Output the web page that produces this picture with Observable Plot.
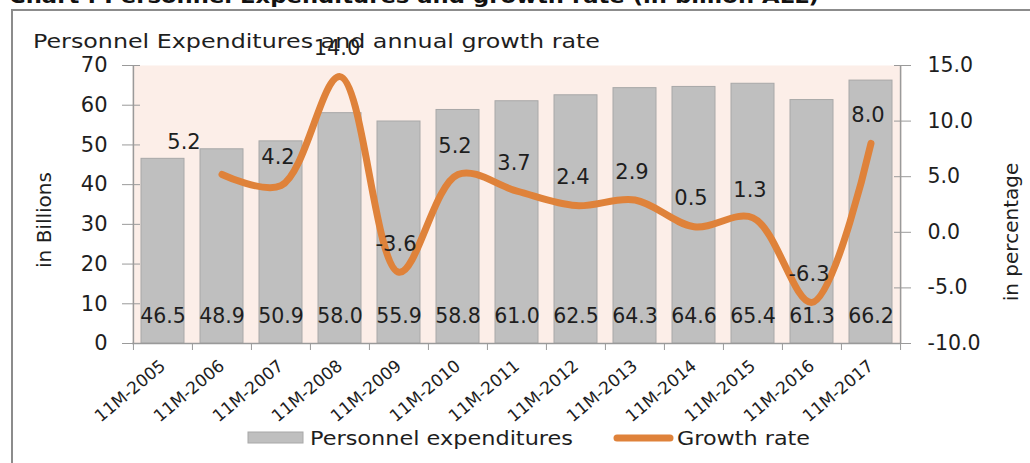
<!DOCTYPE html>
<html>
<head>
<meta charset="utf-8">
<script src="https://cdn.jsdelivr.net/npm/d3@7"></script>
<script src="https://cdn.jsdelivr.net/npm/@observablehq/plot@0.6"></script>
<style>
  html, body { margin: 0; padding: 0; background: #ffffff; }
  #wrap { position: relative; width: 1030px; height: 463px; overflow: hidden; font-family: "DejaVu Sans", sans-serif; }
  #wrap > svg { position: absolute; left: 0; top: 0; }
</style>
</head>
<body>
<div id="wrap"></div>
<script>
// ---- data ----
const categories = ["11M-2005","11M-2006","11M-2007","11M-2008","11M-2009","11M-2010","11M-2011","11M-2012","11M-2013","11M-2014","11M-2015","11M-2016","11M-2017"];
const expenditures = [46.5, 48.9, 50.9, 58.0, 55.9, 58.8, 61.0, 62.5, 64.3, 64.6, 65.4, 61.3, 66.2];
const growthCategories = categories.slice(1);
const growthRate = [5.2, 4.2, 14.0, -3.6, 5.2, 3.7, 2.4, 2.9, 0.5, 1.3, -6.3, 8.0];
const leftTicks = [0, 10, 20, 30, 40, 50, 60, 70];
const rightTicks = [-10, -5, 0, 5, 10, 15];

// ---- tables ----
const bars = categories.map((c, i) => ({cat: c, value: expenditures[i]}));
const growth = growthCategories.map((c, i) => ({cat: c, value: growthRate[i]}));

// map growth (-10..15) onto the left scale (0..70)
const gDomain = [-10, 15], yDomain = [0, 70];
const toY = g => (g - gDomain[0]) * (yDomain[1] - yDomain[0]) / (gDomain[1] - gDomain[0]) + yDomain[0];
const fromY = v => Math.round(((v - yDomain[0]) * (gDomain[1] - gDomain[0]) / (yDomain[1] - yDomain[0]) + gDomain[0]) * 10) / 10;

const W = 1030, H = 463;
const mL = 132, mR = 129, mT = 65, mB = 120;
const step = (W - mL - mR) / categories.length;

const ORANGE = "#DF823A";
const AXIS = "#9a9a9a";
const TEXT = "#1e1e1e";

const chart = Plot.plot({
  width: W, height: H,
  marginLeft: mL, marginRight: mR, marginTop: mT, marginBottom: mB,
  style: {fontFamily: "DejaVu Sans, sans-serif", fontSize: "19px", background: "transparent", color: TEXT},
  x: {type: "band", domain: categories, paddingInner: 0.27, paddingOuter: 0.135},
  y: {domain: yDomain},
  marks: [
    Plot.frame({fill: "#FCEEE8", stroke: null}),
    Plot.barY(bars, {x: "cat", y: "value", fill: "#BFBFBF", stroke: "#A8A8A8", strokeWidth: 1}),
    // axis lines
    Plot.ruleY([0], {stroke: AXIS, strokeWidth: 1.5}),
    Plot.ruleX([categories[0]], {x: d => d, dx: -step / 2, y1: yDomain[0], y2: yDomain[1], stroke: AXIS, strokeWidth: 1.5}),
    Plot.ruleX([categories[categories.length - 1]], {x: d => d, dx: step / 2, y1: yDomain[0], y2: yDomain[1], stroke: AXIS, strokeWidth: 1.5}),
    // category boundary ticks
    Plot.axisX({tickSize: 7, tickFormat: () => "", dx: -step / 2, stroke: AXIS, label: null}),
    Plot.axisX([categories[categories.length - 1]], {tickSize: 7, tickFormat: () => "", dx: step / 2, stroke: AXIS, label: null}),
    // category labels
    Plot.axisX({tickSize: 0, tickPadding: 20, tickRotate: -40, fontSize: 17, fill: TEXT, label: null}),
    // left axis
    Plot.axisY(leftTicks, {anchor: "left", tickSize: 18, dx: 8, tickPadding: 15, stroke: AXIS, fill: TEXT, label: null, fontSize: 21, tickFormat: d => String(d)}),
    // right axis
    Plot.axisY(rightTicks.map(toY), {anchor: "right", tickSize: 17, dx: -8, tickPadding: 17, stroke: AXIS, fill: TEXT, label: null, fontSize: 20.5, tickFormat: v => fromY(v).toFixed(1)}),
    // value labels on bars
    Plot.text(bars, {x: "cat", frameAnchor: "bottom", dy: -21, text: d => d.value.toFixed(1), fill: TEXT, fontSize: 20.5}),
    // growth line
    Plot.line(growth, {x: "cat", y: d => toY(d.value), stroke: ORANGE, strokeWidth: 7, curve: "catmull-rom", strokeLinecap: "round", strokeLinejoin: "round"}),
    Plot.text(growth.slice(0, 1), {x: "cat", y: d => toY(d.value), dx: -38, dy: -32, text: d => d.value.toFixed(1), fill: TEXT, fontSize: 21}),
    Plot.text(growth.slice(1), {x: "cat", y: d => toY(d.value), dx: -3, dy: -28, text: d => d.value.toFixed(1), fill: TEXT, fontSize: 21})
  ]
});
document.getElementById("wrap").appendChild(chart);

// ---- decorations: border, titles, axis titles, legend ----
const deco = d3.select("#wrap").append("svg")
  .attr("width", W).attr("height", H)
  .style("font-family", "DejaVu Sans, sans-serif")
  .style("pointer-events", "none");

deco.append("path").attr("d", `M12,${H} V10 H${W}`).attr("fill", "none").attr("stroke", "#8c8c8c").attr("stroke-width", 2);

deco.append("text").attr("x", 9).attr("y", 3).attr("font-size", 20).attr("font-weight", "bold").attr("fill", "#111")
  .attr("textLength", 810).attr("lengthAdjust", "spacingAndGlyphs")
  .text("Chart : Personnel Expenditures and growth rate (in billion ALL)");

deco.append("text").attr("x", 33).attr("y", 48).attr("font-size", 20).attr("fill", TEXT)
  .attr("textLength", 567).attr("lengthAdjust", "spacingAndGlyphs")
  .text("Personnel Expenditures and annual growth rate");

deco.append("text").attr("transform", "translate(44,220) rotate(-90)").attr("text-anchor", "middle")
  .attr("dominant-baseline", "central").attr("font-size", 20).attr("fill", TEXT).text("in Billions");
deco.append("text").attr("transform", "translate(1011,232) rotate(-90)").attr("text-anchor", "middle")
  .attr("dominant-baseline", "central").attr("font-size", 20).attr("fill", TEXT).text("in percentage");

const lg = deco.append("g");
lg.append("rect").attr("x", 248).attr("y", 432).attr("width", 55).attr("height", 11)
  .attr("fill", "#BFBFBF").attr("stroke", "#A8A8A8");
lg.append("text").attr("x", 310).attr("y", 445).attr("font-size", 20).attr("fill", TEXT)
  .attr("textLength", 263).attr("lengthAdjust", "spacingAndGlyphs").text("Personnel expenditures");
lg.append("line").attr("x1", 617).attr("x2", 670).attr("y1", 438).attr("y2", 438)
  .attr("stroke", ORANGE).attr("stroke-width", 7).attr("stroke-linecap", "round");
lg.append("text").attr("x", 677).attr("y", 445).attr("font-size", 20).attr("fill", TEXT)
  .attr("textLength", 133).attr("lengthAdjust", "spacingAndGlyphs").text("Growth rate");
</script>
</body>
</html>
